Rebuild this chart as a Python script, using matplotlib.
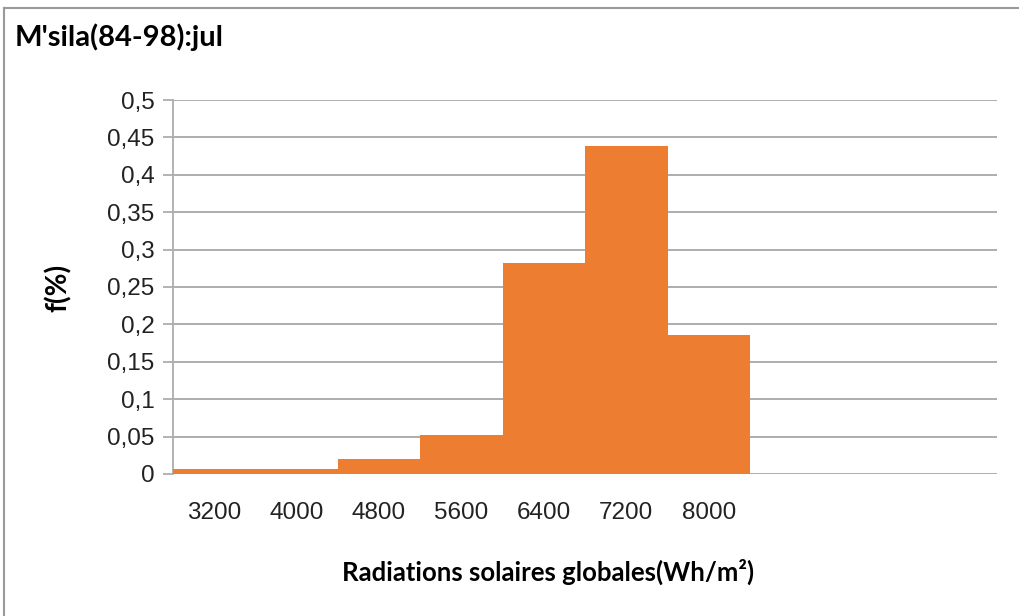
import numpy as np
import matplotlib.pyplot as plt
from matplotlib.lines import Line2D

# Classes de rayonnement et fréquences (juillet, M'sila 84-98)
classes = ['3200', '4000', '4800', '5600', '6400', '7200', '8000']
frequences = [0.007, 0.007, 0.020, 0.052, 0.282, 0.438, 0.186]
n_cases = 10  # la dernière partie de l'axe reste vide
y_ticks = [0, 0.05, 0.1, 0.15, 0.2, 0.25, 0.3, 0.35, 0.4, 0.45, 0.5]

orange = '#ED7D31'
gris = '#ADADAD'

fig = plt.figure(figsize=(10.19, 6.16), dpi=100)
ax = fig.add_axes([172.5/1019, 1 - 474/616, 825/1019, 374/616])

x = np.arange(len(classes))
ax.bar(x, frequences, width=1.0, color=orange, zorder=3)

ax.set_xlim(-0.5, n_cases - 0.5)
ax.set_ylim(0, 0.5)

ax.set_yticks(y_ticks)
ax.set_yticklabels([('%g' % v).replace('.', ',') for v in y_ticks],
                   family='Liberation Sans', fontsize=17.5, color='#222222')
ax.set_xticks(x)
ax.set_xticklabels(classes, family='Liberation Sans', fontsize=17.5, color='#222222')

ax.tick_params(axis='y', length=7, width=1.3, color=gris, pad=6)
ax.tick_params(axis='x', length=0, pad=20)
ax.grid(axis='y', color=gris, linewidth=1.4, zorder=0)

for s in ['top', 'right', 'bottom']:
    ax.spines[s].set_visible(False)
ax.spines['left'].set_color(gris)
ax.spines['left'].set_linewidth(1.3)

# Titre et étiquettes des axes
fig.text(15/1019, 1 - 37/616, "M'sila(84-98):jul", family='Lato', fontweight='bold',
         fontsize=21, va='center', ha='left')
fig.text(548/1019, 1 - 572/616, 'Radiations solaires globales(Wh/m²)', family='Lato',
         fontweight='bold', fontsize=18.5, va='center', ha='center')
fig.text(58/1019, 1 - 288/616, 'f(%)', family='Lato', fontweight='bold',
         fontsize=20, va='center', ha='center', rotation=90)

# Cadre du graphique
fig.add_artist(Line2D([3.5/1019, 3.5/1019], [0, 1 - 8/616], color='#999999', linewidth=1.5))
fig.add_artist(Line2D([3.5/1019, 1], [1 - 8/616, 1 - 8/616], color='#999999', linewidth=1.5))

fig.savefig('out.png', dpi=100)
